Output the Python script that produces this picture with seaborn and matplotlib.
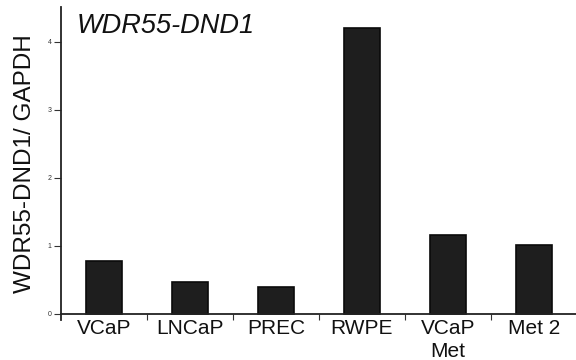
import matplotlib
matplotlib.use("Agg")
import matplotlib.pyplot as plt
import seaborn as sns
import pandas as pd
from matplotlib.ticker import FixedLocator

categories = ["VCaP", "LNCaP", "PREC", "RWPE", "VCaP\nMet", "Met 2"]
values = [0.78, 0.47, 0.40, 4.20, 1.16, 1.01]
yticks = [0, 1, 2, 3, 4]
title = "WDR55-DND1"
ylabel = "WDR55-DND1/ GAPDH"

sns.set_theme(style="white")
plt.rcParams["font.family"] = ["Liberation Sans", "DejaVu Sans"]

df = pd.DataFrame({"cat": categories, "val": values})

fig = plt.figure(figsize=(5.76, 3.6), dpi=100)
ax = fig.add_axes([61/576, 40/360, (577-61)/576, 313/360])

sns.barplot(data=df, x="cat", y="val", color="#1e1e1e", width=0.41,
            edgecolor="#0a0a0a", linewidth=1.2, saturation=1, ax=ax)

ax.set_xlim(-0.5, 5.5)
ax.set_ylim(-0.09, 4.51)
ax.spines["bottom"].set_position(("data", 0))
ax.spines["top"].set_visible(False)
ax.spines["right"].set_visible(False)
for s in ["left", "bottom"]:
    ax.spines[s].set_color("#222222")
    ax.spines[s].set_linewidth(1.3)

ax.set_yticks(yticks)
ax.set_yticklabels([str(t) for t in yticks], fontsize=5, color="#333333")
ax.tick_params(axis="y", length=5, width=0.8, color="#333333", left=True, pad=2)

ax.set_xticks(range(len(categories)))
ax.set_xticklabels(categories, fontsize=15, color="#111111", linespacing=1.25)
ax.tick_params(axis="x", which="major", length=0, pad=4)
ax.xaxis.set_minor_locator(FixedLocator([0.5, 1.5, 2.5, 3.5, 4.5]))
ax.tick_params(axis="x", which="minor", bottom=True, length=4, width=0.8, color="#333333")

ax.set_xlabel("")
ax.set_ylabel(ylabel, fontsize=17.5, color="#111111", labelpad=8)

fig.text(77/576, 1 - 13/360, title, fontsize=19.5, style="italic",
         color="#111111", va="top", ha="left")

fig.savefig("out.png", dpi=100)
